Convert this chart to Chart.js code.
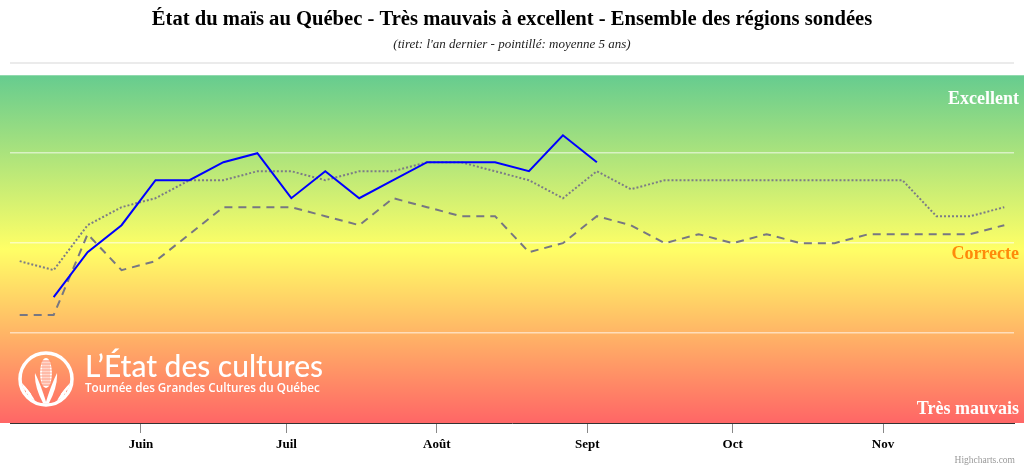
<!DOCTYPE html>
<html><head><meta charset="utf-8">
<script src="https://cdn.jsdelivr.net/npm/chart.js@4.4.0/dist/chart.umd.min.js"></script>
<style>html,body{margin:0;padding:0;background:#fff;}#wrap{width:1024px;height:468px;position:relative;}</style>
</head><body><div id="wrap"><canvas id="c"></canvas></div>
<script>
// Day of year (weekly observations)
const weekDays = [127,134,141,148,155,162,169,176,183,190,197,204,211,218,225,232,239,246,253,260,267,274,281,288,295,302,309,316,323,330];
// Condition scale: 1 = Très mauvais, 3 = Correcte, 5 = Excellent
const thisYear = [null,2.4,2.9,3.2,3.7,3.7,3.9,4.0,3.5,3.8,3.5,3.7,3.9,3.9,3.9,3.8,4.2,3.9,null,null,null,null,null,null,null,null,null,null,null,null];
const lastYear = [2.2,2.2,3.1,2.7,2.8,3.1,3.4,3.4,3.4,3.3,3.2,3.5,3.4,3.3,3.3,2.9,3.0,3.3,3.2,3.0,3.1,3.0,3.1,3.0,3.0,3.1,3.1,3.1,3.1,3.2];
const avg5 = [2.8,2.7,3.2,3.4,3.5,3.7,3.7,3.8,3.8,3.7,3.8,3.8,3.9,3.9,3.8,3.7,3.5,3.8,3.6,3.7,3.7,3.7,3.7,3.7,3.7,3.7,3.7,3.3,3.3,3.4];
const monthTickDays = [152,182,213,244,274,305];
const monthTickLabels = ['Juin','Juil','Août','Sept','Oct','Nov'];
const bandLabels = ['Excellent','Correcte','Très mauvais'];
const titleText = 'État du maïs au Québec - Très mauvais à excellent - Ensemble des régions sondées';
const subtitleText = "(tiret: l'an dernier - pointillé: moyenne 5 ans)";
const logoTitle = 'L’État des cultures';
const logoSub = 'Tournée des Grandes Cultures du Québec';
const creditText = 'Highcharts.com';

const toPts = arr => weekDays.map((d,i)=>({x:d,y:arr[i]}));

function fitFont(ctx, text, weight, family, targetW, base){
  ctx.font = weight+' '+base+'px '+family;
  const w = ctx.measureText(text).width;
  return weight+' '+(base*targetW/w).toFixed(2)+'px '+family;
}

function drawLogo(ctx, cx, cy, r){
  ctx.save();
  ctx.strokeStyle='#fff'; ctx.fillStyle='#fff'; ctx.lineWidth=3.5;
  ctx.beginPath(); ctx.arc(cx,cy,r,0,Math.PI*2); ctx.stroke();
  ctx.beginPath(); ctx.arc(cx,cy,r-1.5,0,Math.PI*2); ctx.clip();
  ctx.lineWidth=1;
  for(let s of [-1,1]){
    for(let k=0;k<3;k++){
      ctx.beginPath();
      const x0 = cx + s*(r - k*3), y0 = cy + 2 + k*5;
      ctx.moveTo(x0, y0);
      ctx.quadraticCurveTo(cx + s*(r*0.55 - k*2), cy + r*0.5, cx + s*(8 + k*5), cy + r + 2);
      ctx.lineTo(cx + s*(12 + k*5), cy + r + 2);
      ctx.quadraticCurveTo(cx + s*(r*0.7 - k*2), cy + r*0.45, x0, y0 + 3);
      ctx.closePath(); ctx.fill();
    }
  }
  ctx.beginPath(); ctx.ellipse(cx, cy-6, 6, 15, 0, 0, Math.PI*2); ctx.fill();
  ctx.strokeStyle='rgba(255,140,110,0.9)'; ctx.lineWidth=0.8;
  for(let i=-3;i<=3;i+=2){ ctx.beginPath(); ctx.moveTo(cx+i,cy-19); ctx.lineTo(cx+i,cy+7); ctx.stroke(); }
  for(let j=-18;j<=6;j+=3){ ctx.beginPath(); ctx.moveTo(cx-6,cy+j); ctx.lineTo(cx+6,cy+j); ctx.stroke(); }
  ctx.fillStyle='#fff';
  ctx.beginPath(); ctx.moveTo(cx-2,cy+r); ctx.quadraticCurveTo(cx-12,cy+8,cx-11,cy-6); ctx.quadraticCurveTo(cx-5,cy+6,cx+1,cy+r); ctx.closePath(); ctx.fill();
  ctx.beginPath(); ctx.moveTo(cx+2,cy+r); ctx.quadraticCurveTo(cx+12,cy+8,cx+11,cy-6); ctx.quadraticCurveTo(cx+5,cy+6,cx-1,cy+r); ctx.closePath(); ctx.fill();
  ctx.restore();
}

const decoPlugin = {
  id:'deco',
  beforeDraw(chart){
    const {ctx, scales:{y}} = chart;
    const top = y.getPixelForValue(4.867), bot = y.getPixelForValue(1);
    const g = ctx.createLinearGradient(0, top, 0, bot);
    g.addColorStop(0,'rgb(102,204,143)');
    g.addColorStop(0.5,'rgb(255,255,102)');
    g.addColorStop(1,'rgb(255,102,102)');
    ctx.save(); ctx.fillStyle=g; ctx.fillRect(0, top, chart.width, bot-top); ctx.restore();
  },
  beforeDatasetsDraw(chart){
    const {ctx, chartArea:a, scales:{y}} = chart;
    ctx.save();
    ctx.textAlign='right'; ctx.textBaseline='alphabetic';
    ctx.font='bold 18px "Liberation Serif"';
    ctx.fillStyle='#fff';
    ctx.fillText(bandLabels[0], a.right+5, y.getPixelForValue(4.867)+29);
    ctx.fillStyle='rgb(255,138,10)';
    ctx.fillText(bandLabels[1], a.right+5, y.getPixelForValue(3)+16);
    ctx.fillStyle='#fff';
    ctx.fillText(bandLabels[2], a.right+5, y.getPixelForValue(1)-9);
    drawLogo(ctx, a.left+36, a.bottom-44, 26);
    ctx.textAlign='left'; ctx.fillStyle='#fff';
    ctx.font = fitFont(ctx, logoTitle, '500', 'Lato', 238, 28);
    ctx.fillText(logoTitle, a.left+75, a.bottom-46);
    ctx.font = fitFont(ctx, logoSub, '600', '"Open Sans"', 235, 12);
    ctx.fillText(logoSub, a.left+75, a.bottom-31);
    ctx.restore();
  },
  afterDraw(chart){
    const {ctx, chartArea:a} = chart;
    ctx.save();
    ctx.font='9.5px "Liberation Serif"'; ctx.fillStyle='#999'; ctx.textAlign='right'; ctx.textBaseline='alphabetic';
    ctx.fillText(creditText, a.right+1, chart.height-5);
    ctx.restore();
  }
};

new Chart(document.getElementById('c'), {
  type:'line',
  data:{datasets:[
    {label:'Cette année', data:toPts(thisYear), borderColor:'#0000ff', borderWidth:2, pointRadius:0, tension:0, spanGaps:false},
    {label:"L'an dernier", data:toPts(lastYear), borderColor:'#777782', borderDash:[8,6], borderWidth:2, pointRadius:0, tension:0},
    {label:'Moyenne 5 ans', data:toPts(avg5), borderColor:'#7c7c86', borderDash:[2,2], borderWidth:2, pointRadius:0, tension:0}
  ]},
  options:{
    responsive:true, maintainAspectRatio:false, animation:false,
    layout:{padding:{left:10,right:10,top:0,bottom:0}},
    plugins:{
      legend:{display:false}, tooltip:{enabled:false},
      title:{display:true, text:titleText, color:'#000', font:{family:'Liberation Serif', size:20.6, weight:'bold'}, padding:{top:7,bottom:5}},
      subtitle:{display:true, text:subtitleText, color:'#222', font:{family:'Liberation Serif', size:13, style:'italic'}, padding:{top:0,bottom:11}}
    },
    scales:{
      x:{type:'linear', min:125, max:332,
        afterBuildTicks:s=>{ s.ticks = monthTickDays.map(v=>({value:v})); },
        ticks:{callback:(v,i)=>monthTickLabels[i], color:'#000', font:{family:'Liberation Serif', size:13, weight:'bold'}, padding:4, maxRotation:0, autoSkip:false},
        grid:{drawOnChartArea:false, drawTicks:true, tickLength:10, color:'#888'},
        border:{color:'#333', width:1},
        afterFit:s=>{ s.height=45; }
      },
      y:{min:1, max:5,
        ticks:{display:false, stepSize:1},
        grid:{drawTicks:false, lineWidth:c=> c.tick.value===5 ? 2 : 1.5, color:c=> c.tick.value===5 ? '#ebebeb' : (c.tick.value===1 ? 'rgba(0,0,0,0)' : 'rgba(255,255,255,0.55)')},
        border:{display:false},
        afterFit:s=>{ s.width=0; }
      }
    }
  },
  plugins:[decoPlugin]
});
</script></body></html>
